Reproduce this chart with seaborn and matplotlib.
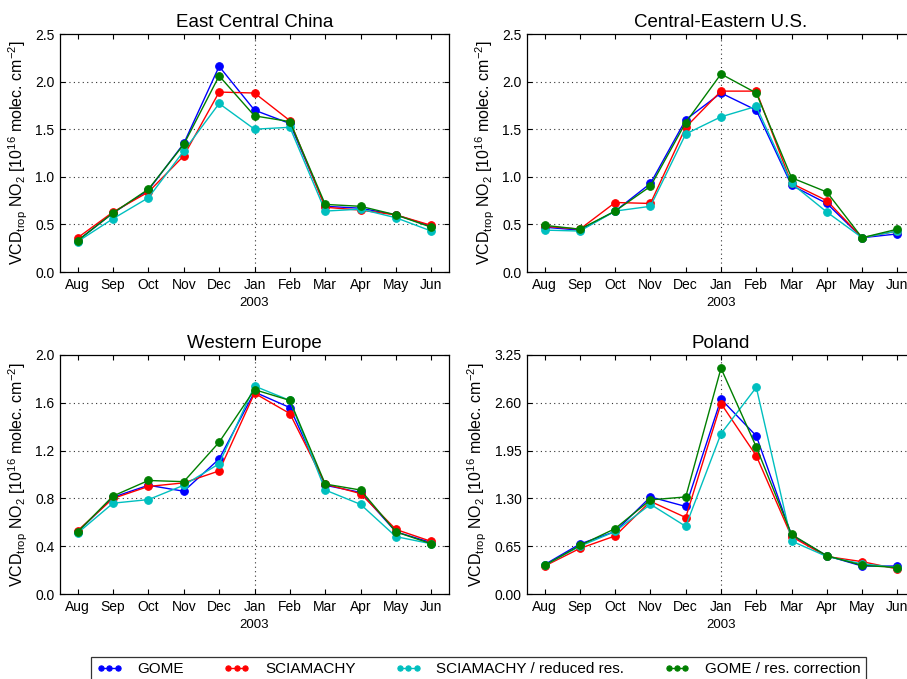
import numpy as np
import pandas as pd
import matplotlib
matplotlib.use("Agg")
import matplotlib.pyplot as plt
from matplotlib import transforms
import seaborn as sns

months = ["Aug", "Sep", "Oct", "Nov", "Dec", "Jan", "Feb", "Mar", "Apr", "May", "Jun"]
series_names = ["GOME", "SCIAMACHY", "SCIAMACHY / reduced res.", "GOME / res. correction"]
series_colors = ["#0000ff", "#ff0000", "#00bfbf", "#007f00"]

titles = ["East Central China", "Central-Eastern U.S.", "Western Europe", "Poland"]

# East Central China
ecc_gome = [0.33, 0.62, 0.86, 1.35, 2.16, 1.70, 1.56, 0.69, 0.67, 0.60, 0.48]
ecc_scia = [0.36, 0.63, 0.84, 1.22, 1.89, 1.88, 1.59, 0.68, 0.65, 0.60, 0.49]
ecc_scia_red = [0.32, 0.56, 0.78, 1.27, 1.77, 1.50, 1.52, 0.64, 0.66, 0.57, 0.43]
ecc_gome_corr = [0.33, 0.62, 0.87, 1.34, 2.06, 1.64, 1.58, 0.71, 0.69, 0.60, 0.47]

# Central-Eastern U.S.
us_gome = [0.47, 0.44, 0.64, 0.93, 1.60, 1.88, 1.70, 0.91, 0.72, 0.36, 0.40]
us_scia = [0.48, 0.45, 0.73, 0.72, 1.52, 1.90, 1.90, 0.93, 0.75, 0.36, 0.43]
us_scia_red = [0.44, 0.43, 0.64, 0.69, 1.45, 1.63, 1.74, 0.93, 0.63, 0.36, 0.43]
us_gome_corr = [0.49, 0.45, 0.64, 0.90, 1.57, 2.08, 1.88, 0.99, 0.84, 0.36, 0.45]

# Western Europe
we_gome = [0.52, 0.81, 0.91, 0.86, 1.13, 1.69, 1.56, 0.91, 0.85, 0.52, 0.43]
we_scia = [0.53, 0.80, 0.90, 0.93, 1.03, 1.68, 1.51, 0.92, 0.84, 0.54, 0.44]
we_scia_red = [0.51, 0.76, 0.79, 0.91, 1.09, 1.74, 1.62, 0.87, 0.75, 0.48, 0.42]
we_gome_corr = [0.52, 0.82, 0.95, 0.94, 1.27, 1.71, 1.62, 0.92, 0.87, 0.52, 0.42]

# Poland
pl_gome = [0.40, 0.68, 0.85, 1.32, 1.19, 2.65, 2.15, 0.80, 0.52, 0.38, 0.38]
pl_scia = [0.38, 0.62, 0.79, 1.26, 1.04, 2.59, 1.88, 0.78, 0.51, 0.44, 0.34]
pl_scia_red = [0.39, 0.65, 0.85, 1.22, 0.92, 2.18, 2.81, 0.72, 0.51, 0.41, 0.36]
pl_gome_corr = [0.39, 0.66, 0.89, 1.28, 1.32, 3.07, 2.00, 0.81, 0.52, 0.39, 0.36]

panel_data = [
    [ecc_gome, ecc_scia, ecc_scia_red, ecc_gome_corr],
    [us_gome, us_scia, us_scia_red, us_gome_corr],
    [we_gome, we_scia, we_scia_red, we_gome_corr],
    [pl_gome, pl_scia, pl_scia_red, pl_gome_corr],
]
y_ticks = [
    [0.0, 0.5, 1.0, 1.5, 2.0, 2.5],
    [0.0, 0.5, 1.0, 1.5, 2.0, 2.5],
    [0.0, 0.4, 0.8, 1.2, 1.6, 2.0],
    [0.0, 0.65, 1.30, 1.95, 2.60, 3.25],
]
y_fmt = ["%.1f", "%.1f", "%.1f", "%.2f"]
year_label = "2003"
year_month = "Jan"

sns.set_theme(style="ticks")
plt.rcParams["font.family"] = ["Liberation Sans", "DejaVu Sans"]
plt.rcParams["mathtext.fontset"] = "custom"
plt.rcParams["mathtext.rm"] = "Liberation Sans"
plt.rcParams["mathtext.it"] = "Liberation Sans"
plt.rcParams["mathtext.default"] = "regular"
for k in ["text.color", "axes.labelcolor", "xtick.color", "ytick.color",
          "xtick.labelcolor", "ytick.labelcolor", "axes.titlecolor"]:
    plt.rcParams[k] = "black"

W, H = 907, 679
fig = plt.figure(figsize=(W / 100, H / 100), dpi=100)
fig.patch.set_facecolor("white")

# axes rectangles in pixels: left, top, right, bottom
rects_px = [
    (60, 34, 449, 272),
    (527, 34, 915, 272),
    (60, 355, 449, 594),
    (527, 355, 915, 594),
]

ylabel = r"VCD$_{trop}$ NO$_2$ [10$^{16}$ molec. cm$^{-2}$]"
x = np.arange(len(months))
jan_idx = months.index(year_month)

for i in range(4):
    l, t, r, b = rects_px[i]
    ax = fig.add_axes([l / W, 1 - b / H, (r - l) / W, (b - t) / H])
    ax.set_facecolor("white")
    rows = []
    for name, vals in zip(series_names, panel_data[i]):
        for m, v in zip(x, vals):
            rows.append({"month": m, "value": v, "series": name})
    df = pd.DataFrame(rows)
    for name, col in zip(series_names, series_colors):
        sub = df[df["series"] == name]
        sns.lineplot(data=sub, x="month", y="value", ax=ax, color=col,
                     marker="o", markersize=5.5, markeredgecolor=col,
                     linewidth=1.0, label=name if i == 0 else None,
                     legend=False)
    ax.set_xlim(-0.5, len(months) - 0.5)
    ax.set_ylim(y_ticks[i][0], y_ticks[i][-1])
    ax.set_xticks(x)
    ax.set_xticklabels(months, fontsize=10)
    ax.set_yticks(y_ticks[i])
    ax.set_yticklabels([y_fmt[i] % v for v in y_ticks[i]], fontsize=10)
    ax.tick_params(direction="in", length=3.5, width=0.8, top=True, right=True,
                   colors="black", labelcolor="black", pad=4)
    for yv in y_ticks[i][1:-1]:
        ax.axhline(yv, color="#333333", linestyle=(0, (1, 3)), linewidth=0.8, zorder=0)
    ax.axvline(jan_idx, color="#333333", linestyle=(0, (1, 3)), linewidth=0.8, zorder=0)
    for sp in ax.spines.values():
        sp.set_visible(True)
        sp.set_color("black")
        sp.set_linewidth(0.9)
    ax.set_xlabel("")
    ax.set_ylabel(ylabel, fontsize=11.5, labelpad=4, color="black")
    ax.set_title(titles[i], fontsize=13.5, pad=5, color="black")
    trans = transforms.blended_transform_factory(ax.transData, ax.transAxes)
    ax.text(jan_idx, -0.105, year_label, transform=trans, ha="center", va="top",
            fontsize=9.5, color="black")
    if i == 0:
        handles, labels = ax.get_legend_handles_labels()

leg = fig.legend(handles, labels, loc="upper center", ncol=4,
                 bbox_to_anchor=(478.5 / W, 1 - 657 / H), numpoints=3,
                 fontsize=11, frameon=True, fancybox=False, edgecolor="black",
                 handlelength=1.7, columnspacing=2.6, handletextpad=1.0,
                 borderpad=0.35, borderaxespad=0)
leg.get_frame().set_linewidth(0.9)
for h in leg.legend_handles:
    h.set_markersize(3.8)

fig.savefig("out.png", dpi=100, facecolor="white")
